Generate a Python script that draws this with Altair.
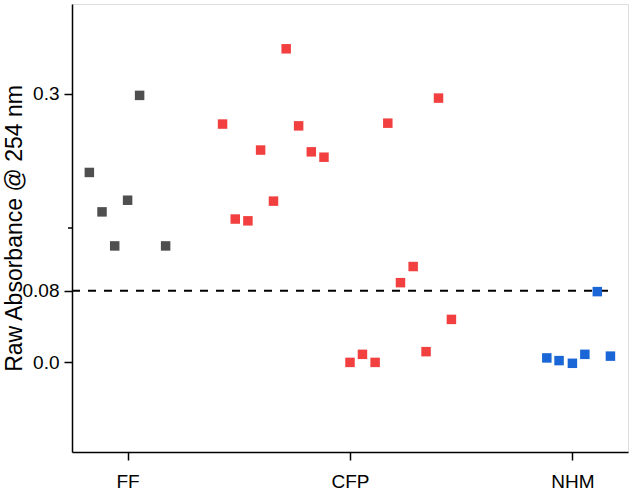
import altair as alt
import pandas as pd

# ---- data ----
ff_x = [0.828, 0.885, 0.942, 1.000, 1.054, 1.171]
ff_y = [0.212, 0.168, 0.130, 0.181, 0.298, 0.130]

cfp_x = [1.427, 1.484, 1.541, 1.598, 1.656, 1.713, 1.769, 1.826, 1.883,
         2.000, 2.056, 2.113, 2.170, 2.227, 2.284, 2.342, 2.398, 2.456]
cfp_y = [0.266, 0.160, 0.158, 0.237, 0.180, 0.350, 0.264, 0.235, 0.229,
         0.000, 0.009, 0.000, 0.267, 0.089, 0.107, 0.012, 0.295, 0.048]

nhm_x = [2.885, 2.940, 3.000, 3.056, 3.112, 3.171]
nhm_y = [0.005, 0.002, -0.001, 0.009, 0.079, 0.007]

groups = ["FF", "CFP", "NHM"]
group_ticks = [1, 2, 3]
colors = ["#4f4f4f", "#f23f3f", "#1a66d6"]

y_ticks = [0.0, 0.08, 0.3]
y_tick_labels = ["0.0", "0.08", "0.3"]
minor_tick = [0.15]

threshold = 0.08
threshold_x = [0.75, 3.183]

rows = []
for g, xs, ys in [("FF", ff_x, ff_y), ("CFP", cfp_x, cfp_y), ("NHM", nhm_x, nhm_y)]:
    for x, y in zip(xs, ys):
        rows.append({"group": g, "x": x, "y": y})
df = pd.DataFrame(rows)

x_label_expr = " : ".join(
    [f"datum.value == {v} ? '{l}'" for v, l in zip(group_ticks, groups)] + ["''"]
)
y_label_expr = " : ".join(
    [f"abs(datum.value - {v}) < 1e-9 ? '{l}'" for v, l in zip(y_ticks, y_tick_labels)] + ["''"]
)

FONT = "Liberation Sans"

xscale = alt.Scale(domain=[0.75, 3.25], nice=False, zero=False)
yscale = alt.Scale(domain=[-0.1, 0.4], nice=False, zero=False)

points = alt.Chart(df).mark_square(size=90, opacity=1, filled=True).encode(
    x=alt.X("x:Q", scale=xscale,
            axis=alt.Axis(values=group_ticks, labelExpr=x_label_expr, title=None,
                          grid=False, tickSize=8, tickWidth=1.5, tickColor="black",
                          domainColor="black", domainWidth=1.5,
                          labelFont=FONT, labelFontSize=19, labelColor="black",
                          labelPadding=12)),
    y=alt.Y("y:Q", scale=yscale,
            axis=alt.Axis(values=y_ticks, labelExpr=y_label_expr,
                          title="Raw Absorbance @ 254 nm",
                          grid=False, tickSize=8, tickWidth=1.5, tickColor="black",
                          domainColor="black", domainWidth=1.5,
                          labelFont=FONT, labelFontSize=19, labelColor="black",
                          labelPadding=5,
                          titleFont=FONT, titleFontSize=23, titleFontWeight="normal",
                          titleColor="black", titleX=-51, titleBaseline="alphabetic")),
    color=alt.Color("group:N", scale=alt.Scale(domain=groups, range=colors), legend=None),
)

thr_df = pd.DataFrame({"x": [threshold_x[0]], "x2": [threshold_x[1]], "y": [threshold]})
rule = alt.Chart(thr_df).mark_rule(color="black", strokeWidth=2, strokeDash=[8, 8]).encode(
    x=alt.X("x:Q", scale=xscale), x2="x2:Q", y=alt.Y("y:Q", scale=yscale)
)

minor_df = pd.DataFrame({"y": minor_tick})
minor = alt.Chart(minor_df).mark_rule(color="black", strokeWidth=1.5).encode(
    y=alt.Y("y:Q", scale=yscale), x=alt.value(-4), x2=alt.value(0)
)

chart = alt.layer(rule, points, minor).properties(
    width=556, height=448,
    autosize=alt.AutoSizeParams(type="none"),
    padding={"left": 72, "top": 4, "right": 5, "bottom": 40},
).configure_view(stroke="black", strokeWidth=1.5).configure(background="white")

chart.save("out.html", embed_options={"renderer": "svg", "actions": False})
